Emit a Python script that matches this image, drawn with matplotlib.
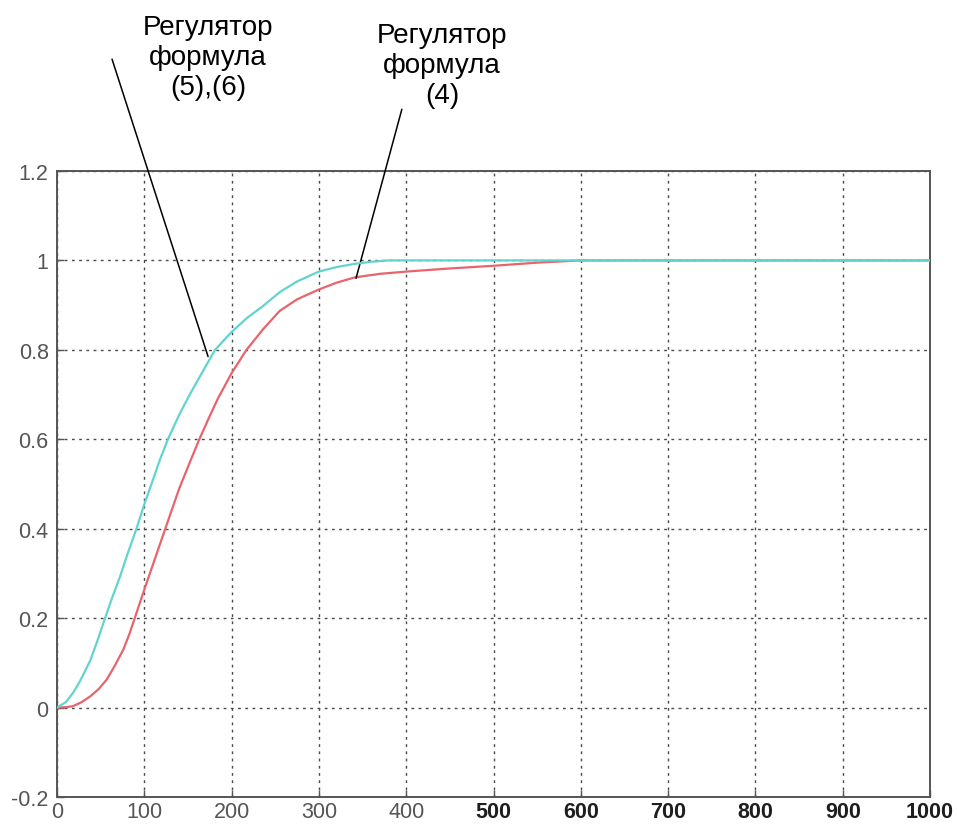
import matplotlib
matplotlib.use("Agg")
import matplotlib.pyplot as plt

# Step responses of the two controllers
t_fast = [0, 10, 18, 26, 38, 46, 55, 63, 72, 81, 91, 100, 110, 118, 127, 140, 152, 165, 181,
          200, 218, 236, 255, 275, 300, 320, 340, 360, 380, 450, 1000]
y_fast = [0, 0.012, 0.032, 0.058, 0.105, 0.148, 0.2, 0.245, 0.292, 0.345, 0.4, 0.455, 0.51, 0.555,
          0.6, 0.655, 0.7, 0.745, 0.8, 0.84, 0.872, 0.898, 0.929, 0.953, 0.975, 0.985, 0.992,
          0.997, 1.0, 1.0, 1.0]

t_slow = [0, 10, 18, 28, 38, 48, 57, 66, 76, 83, 89, 100, 112, 124, 140, 152, 163, 174, 184,
          200, 217, 236, 255, 275, 300, 320, 341, 370, 400, 450, 500, 550, 600, 1000]
y_slow = [0, 0.001, 0.003, 0.012, 0.025, 0.042, 0.063, 0.093, 0.13, 0.165, 0.2, 0.264, 0.332,
          0.4, 0.49, 0.548, 0.6, 0.648, 0.69, 0.748, 0.8, 0.846, 0.887, 0.913, 0.935, 0.95,
          0.962, 0.97, 0.975, 0.982, 0.988, 0.995, 1.0, 1.0]

x_ticks = [0, 100, 200, 300, 400, 500, 600, 700, 800, 900, 1000]
y_ticks = [-0.2, 0, 0.2, 0.4, 0.6, 0.8, 1.0, 1.2]
y_tick_labels = ["-0.2", "0", "0.2", "0.4", "0.6", "0.8", "1", "1.2"]

label_fast = "Регулятор\nформула\n(5),(6)"
label_slow = "Регулятор\nформула\n(4)"

plt.rcParams['font.family'] = ['Liberation Sans', 'DejaVu Sans']

fig = plt.figure(figsize=(9.57, 8.28), dpi=100)
ax = fig.add_axes([0.0596, 0.0362, 0.9122, 0.7561])

ax.plot(t_slow, y_slow, color='#e8646c', lw=1.6, zorder=3, solid_joinstyle='round')
ax.plot(t_fast, y_fast, color='#62d4cf', lw=1.6, zorder=4, solid_joinstyle='round')

ax.set_xlim(0, 1000)
ax.set_ylim(-0.2, 1.2)
ax.set_xticks(x_ticks)
ax.set_yticks(y_ticks)
ax.set_yticklabels(y_tick_labels)

ax.grid(True, color='#4a4a4a', linestyle=(0, (2, 3.2)), linewidth=1.0)
for s in ax.spines.values():
    s.set_color('#555555')
    s.set_linewidth(1.4)

ax.tick_params(direction='in', length=5, width=1, color='#555555',
               labelsize=15.5, labelcolor='#555555', pad=6)
ax.tick_params(axis='x', pad=3)
for lab, v in zip(ax.get_xticklabels(), x_ticks):
    if v >= 500:
        lab.set_color('#1e1e1e')
        lab.set_fontweight('bold')

# Callout lines and captions
ax.annotate('', xy=(173, 0.785), xytext=(63, 1.45), xycoords='data',
            annotation_clip=False,
            arrowprops=dict(arrowstyle='-', color='black', lw=1.1,
                            shrinkA=0, shrinkB=0))
ax.annotate('', xy=(342.5, 0.96), xytext=(395, 1.338), xycoords='data',
            annotation_clip=False,
            arrowprops=dict(arrowstyle='-', color='black', lw=1.1,
                            shrinkA=0, shrinkB=0))

ax.text(173, 1.454, label_fast, ha='center', va='center', fontsize=20,
        linespacing=1.2, color='black', clip_on=False)
ax.text(441, 1.438, label_slow, ha='center', va='center', fontsize=20,
        linespacing=1.2, color='black', clip_on=False)

fig.savefig('out.png', dpi=100)
